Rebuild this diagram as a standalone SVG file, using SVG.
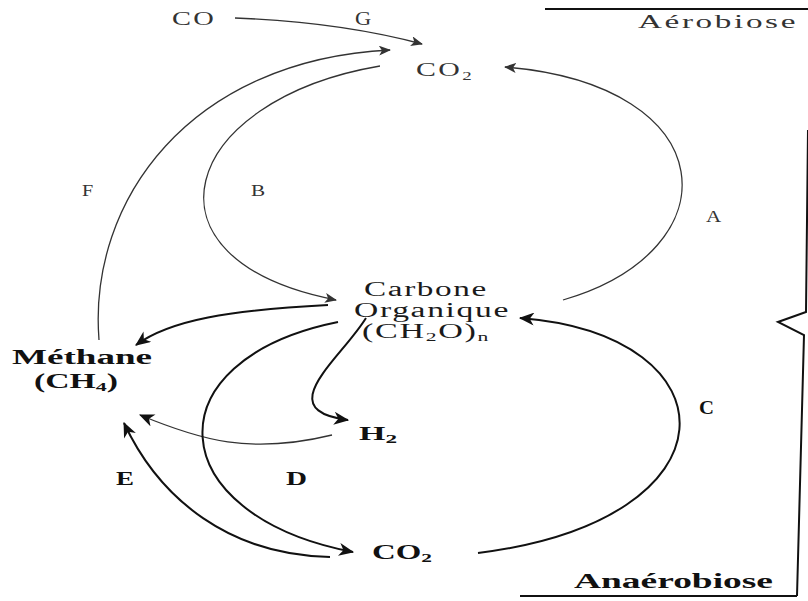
<svg xmlns="http://www.w3.org/2000/svg" width="808" height="601" viewBox="0 0 808 601">
<style>
.t{font-family:"Liberation Serif",serif;fill:#1a1a1a;letter-spacing:1px;}
.lt{font-family:"Liberation Serif",serif;fill:#333;letter-spacing:1.5px;}
.bd{font-family:"Liberation Serif",serif;fill:#111;font-weight:bold;}
.thin{fill:none;stroke:#333;stroke-width:1.3;}
.thick{fill:none;stroke:#111;stroke-width:2;}
.frame{fill:none;stroke:#111;stroke-width:2;}
</style>
<defs>
<marker id="ah" viewBox="0 0 12 10" refX="11" refY="5" markerWidth="12" markerHeight="10" markerUnits="userSpaceOnUse" orient="auto">
<path d="M0,0 L12,5 L0,10 L3,5 Z" fill="#333"/>
</marker>
<marker id="ahb" viewBox="0 0 14 12" refX="13" refY="6" markerWidth="16" markerHeight="13" markerUnits="userSpaceOnUse" orient="auto">
<path d="M0,0 L14,6 L0,12 L4,6 Z" fill="#111"/>
</marker>
</defs>
<g id="frame">
<line class="frame" x1="545" y1="9" x2="808" y2="9" stroke-width="1.5"/>
<polyline class="frame" points="808,130 806,312 778,322 804,335 797,596"/>
<line class="frame" x1="520" y1="596" x2="797" y2="596"/>
</g>
<g id="connectors">
<path id="G" class="thin" d="M235,18 Q340,22 422,44" marker-end="url(#ah)"/>
<path id="F" class="thin" d="M99,340 C88,200 190,60 390,50" marker-end="url(#ah)"/>
<path id="B" class="thin" d="M380,66 C180,100 130,260 336,300" marker-end="url(#ah)"/>
<path id="A" class="thin" d="M563,300 C735,250 725,85 505,67" marker-end="url(#ah)"/>
<path id="C" class="thick" d="M478,553 C742,520 737,335 520,318" marker-end="url(#ahb)"/>
<path id="CM" class="thick" d="M328,305 C230,310 170,320 136,345" marker-end="url(#ahb)"/>
<path id="CH" class="thick" d="M366,318 C340,360 270,410 348,420" marker-end="url(#ahb)"/>
<path id="HM" class="thin" d="M332,435 C250,455 200,440 140,415" marker-end="url(#ahb)" stroke-width="1.6"/>
<path id="D" class="thick" d="M338,322 C150,360 160,515 353,552" marker-end="url(#ahb)"/>
<path id="E" class="thick" d="M330,557 C230,555 160,500 124,423" marker-end="url(#ahb)"/>
</g>
<g id="co"><text class="lt" x="172" y="25" font-size="19" textLength="44" lengthAdjust="spacingAndGlyphs">CO</text></g>
<g id="lblG"><text class="lt" x="355" y="25" font-size="19" textLength="18" lengthAdjust="spacingAndGlyphs">G</text></g>
<g id="aero"><text class="lt" x="638" y="28" font-size="19" textLength="160" lengthAdjust="spacingAndGlyphs">Aérobiose</text></g>
<g id="co2top"><text class="lt" x="416" y="76" font-size="19" textLength="58" lengthAdjust="spacingAndGlyphs">CO<tspan font-size="12" dy="4">2</tspan></text></g>
<g id="lblF"><text class="lt" x="82" y="196" font-size="17" textLength="13" lengthAdjust="spacingAndGlyphs">F</text></g>
<g id="lblB"><text class="lt" x="251" y="196" font-size="17" textLength="16" lengthAdjust="spacingAndGlyphs">B</text></g>
<g id="lblA"><text class="lt" x="706" y="222" font-size="17" textLength="17" lengthAdjust="spacingAndGlyphs">A</text></g>
<g id="carbone">
<text class="t" x="364" y="296" font-size="20.5" textLength="124" lengthAdjust="spacingAndGlyphs">Carbone</text>
<text class="t" x="354" y="317" font-size="20.5" textLength="156" lengthAdjust="spacingAndGlyphs">Organique</text>
<text class="t" x="362" y="338" font-size="20.5" textLength="128" lengthAdjust="spacingAndGlyphs">(CH<tspan font-size="13" dy="3">2</tspan><tspan dy="-3">O)</tspan><tspan font-size="13" dy="3">n</tspan></text>
</g>
<g id="methane">
<text class="bd" x="12" y="364" font-size="20" textLength="140" lengthAdjust="spacingAndGlyphs">Méthane</text>
<text class="bd" x="34" y="388" font-size="20" textLength="84" lengthAdjust="spacingAndGlyphs">(CH<tspan font-size="13" dy="3">4</tspan><tspan dy="-3">)</tspan></text>
</g>
<g id="h2"><text class="bd" x="359" y="440" font-size="19" textLength="38" lengthAdjust="spacingAndGlyphs">H<tspan font-size="13" dy="3">2</tspan></text></g>
<g id="lblC"><text class="bd" x="699" y="414" font-size="19" textLength="15" lengthAdjust="spacingAndGlyphs">C</text></g>
<g id="lblE"><text class="bd" x="116" y="485" font-size="18" textLength="18" lengthAdjust="spacingAndGlyphs">E</text></g>
<g id="lblD"><text class="bd" x="286" y="485" font-size="18" textLength="21" lengthAdjust="spacingAndGlyphs">D</text></g>
<g id="co2bot"><text class="bd" x="372" y="559" font-size="20" textLength="60" lengthAdjust="spacingAndGlyphs">CO<tspan font-size="13" dy="3">2</tspan></text></g>
<g id="anaero"><text class="bd" x="574" y="588" font-size="20" textLength="199" lengthAdjust="spacingAndGlyphs">Anaérobiose</text></g>
</svg>
